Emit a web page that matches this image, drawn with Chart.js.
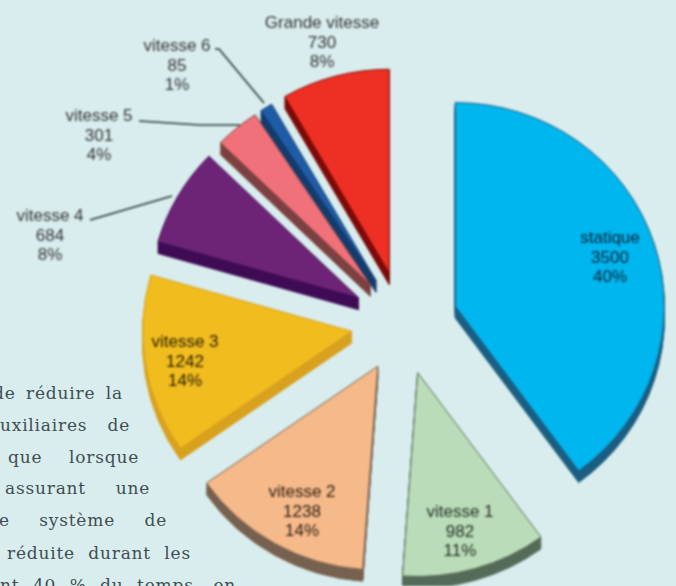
<!DOCTYPE html>
<html lang="fr">
<head>
<meta charset="utf-8">
<title>Vitesses</title>
<style>
  html, body { margin: 0; background: #d9edee; overflow: hidden; }
  #wrap { position: relative; width: 676px; height: 586px; overflow: hidden; }
  #myChart { position: absolute; left: 0; top: 0; filter: blur(0.8px); }
  .para { position: absolute; white-space: normal; text-align: justify; text-align-last: justify;
          font: 17px "DejaVu Serif", serif; letter-spacing: 0.8px; color: #3f4d52; }
</style>
<script src="https://cdn.jsdelivr.net/npm/chart.js@4"></script>
</head>
<body>
<div id="wrap">
  <div id="paragraph"></div>
  <canvas id="myChart" width="676" height="586"></canvas>
</div>
<script>
const categories = ['statique', 'vitesse 1', 'vitesse 2', 'vitesse 3', 'vitesse 4', 'vitesse 5', 'vitesse 6', 'Grande vitesse'];
const durations = [3500, 982, 1238, 1242, 684, 301, 85, 730];
const percents = ['40%', '11%', '14%', '14%', '8%', '4%', '1%', '8%'];

const faceColors = ['#00b6ee', '#bbdcb8', '#f5b98a', '#f0bc1e', '#6e2476', '#f0717a', '#1f5ca8', '#ee3024'];
const sideColors = ['#1b5e82', '#566b58', '#77614f', '#d8a21e', '#3f0c54', '#7c4040', '#143c6c', '#7c0a08'];
const pullOuts = [55, 53, 51, 52, 51, 51, 51, 53];

// label centre x, first line y
const labelSpots = [[610, 238], [460, 512], [302, 492], [185, 342], [50, 216], [99, 116], [177, 46], [322, 23]];
const labelInk = ['#06233a', '#222f24', '#2e2010', '#2e2006', '#333', '#333', '#333', '#333'];
const leaders = [
  [[90, 220], [172, 196]],
  [[139, 121], [200, 125], [240, 125]],
  [[215, 49], [219, 49], [264, 103]]
];

// the article text next to the chart, cut by the crop: text, left, right, baseline
const textLines = [
  ['de réduire la', -7, 123, 398],
  ['uxiliaires de', 0, 130, 430],
  ['que lorsque', 8, 139, 462],
  ['assurant une', 5, 150, 493],
  ['e système de', -1, 167, 525],
  ['réduite durant les', 7, 191, 558],
  ['nt 40 % du temps, en', 0, 236, 590]
];

const pieRadius = 209;
const squash = 0.975; // the printed pie is a little flatter than a circle
const depth = 12;

const para = document.getElementById('paragraph');
textLines.forEach(([txt, left, right, base]) => {
  const d = document.createElement('div');
  d.className = 'para';
  d.textContent = txt;
  d.style.left = left + 'px';
  d.style.width = (right - left) + 'px';
  d.style.top = (base - 15) + 'px';
  para.appendChild(d);
});

const pie3d = {
  id: 'pie3d',
  afterDatasetsUpdate(chart) {
    // exploded slices: move each arc along its middle angle
    chart.getDatasetMeta(0).data.forEach((el, i) => {
      const mid = (el.startAngle + el.endAngle) / 2;
      el.x += Math.cos(mid) * pullOuts[i];
      el.y += Math.sin(mid) * pullOuts[i];
    });
  },
  beforeDatasetsDraw(chart) {
    const ctx = chart.ctx;
    const cy = (chart.chartArea.top + chart.chartArea.bottom) / 2;
    ctx.save();
    ctx.translate(0, cy);
    ctx.scale(1, squash);
    ctx.translate(0, -cy);
    chart.getDatasetMeta(0).data.forEach((el, i) => {
      // same arc element, dark colour, stepped down for the thickness
      const faceOptions = el.options;
      el.options = Object.assign(Object.create(faceOptions), { backgroundColor: sideColors[i] });
      for (let d = depth; d > 0; d--) {
        ctx.save();
        ctx.translate(0, d);
        el.draw(ctx);
        ctx.restore();
      }
      el.options = faceOptions;
    });
  },
  afterDatasetsDraw(chart) {
    const ctx = chart.ctx;
    ctx.restore();
    ctx.save();
    ctx.strokeStyle = '#2a3636';
    ctx.lineWidth = 1.6;
    leaders.forEach(pts => {
      ctx.beginPath();
      pts.forEach(([x, y], k) => k ? ctx.lineTo(x, y) : ctx.moveTo(x, y));
      ctx.stroke();
    });
    ctx.font = '17px "Liberation Sans", sans-serif';
    ctx.textAlign = 'center';
    ctx.textBaseline = 'middle';
    categories.forEach((name, i) => {
      const [x, y] = labelSpots[i];
      ctx.fillStyle = labelInk[i];
      ctx.fillText(name, x, y);
      ctx.fillText(String(durations[i]), x, y + 20);
      ctx.fillText(percents[i], x, y + 39);
    });
    ctx.restore();
  }
};

new Chart(
  document.getElementById('myChart'),
  {
    type: 'pie',
    data: {
      labels: categories,
      datasets: [{
        data: durations,
        backgroundColor: faceColors,
        borderColor: sideColors,
        borderWidth: 1,
        clip: false
      }]
    },
    options: {
      responsive: false,
      animation: false,
      radius: pieRadius,
      layout: { padding: { left: 130, top: 60 } },
      plugins: {
        legend: { display: false },
        tooltip: { enabled: false }
      }
    },
    plugins: [pie3d]
  }
);
</script>
</body>
</html>
